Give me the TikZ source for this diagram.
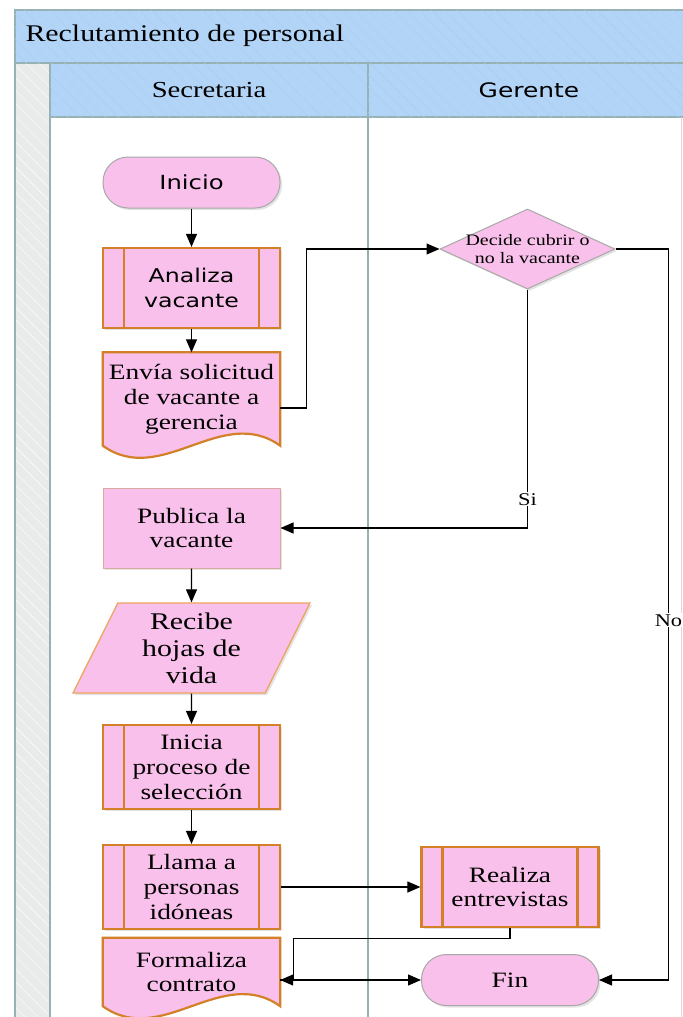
\documentclass[tikz,border=0pt]{standalone}
\usepackage{fontspec}
\setmainfont[FakeStretch=1.25]{Liberation Serif}
\newfontfamily\shapesans[FakeStretch=1.25]{DejaVu Sans}
\usetikzlibrary{shapes.geometric, arrows.meta, calc, patterns.meta, shadows}
\pgfdeclarelayer{lanes}
\pgfdeclarelayer{background}
\pgfsetlayers{lanes,background,main}

\definecolor{headblue}{RGB}{178,212,246}
\definecolor{hatchblue}{RGB}{170,206,243}
\definecolor{laneline}{RGB}{150,178,180}
\definecolor{stripgray}{RGB}{233,234,234}
\definecolor{procpink}{RGB}{248,192,234}
\definecolor{procorange}{RGB}{212,128,40}
\definecolor{termgray}{RGB}{168,168,168}
\definecolor{pubedge}{RGB}{214,172,160}
\definecolor{recedge}{RGB}{236,164,96}

% document shape: straight top and sides, wavy bottom
\newcommand{\docoutline}[1]{%
  \begin{pgfonlayer}{background}
    \filldraw[fill=procpink, draw=procorange, line width=2.2bp]
      (#1.north west) -- (#1.north east) -- (#1.south east)
      .. controls ($(#1.south east)!0.33!(#1.south west)+(0,42bp)$)
      and ($(#1.south east)!0.67!(#1.south west)+(0,-42bp)$) .. (#1.south west) -- cycle;
  \end{pgfonlayer}}

\begin{document}
\begin{tikzpicture}[x=1bp, y=-1bp,
  flow/.style={line width=1.1bp, -{Triangle[length=13bp,width=11bp]}},
  lane/.style={draw=laneline, line width=1.6bp},
  hatched/.style={postaction={pattern={Lines[angle=-45,distance=9bp,line width=0.4bp]}, pattern color=#1}},
  shade/.style={drop shadow={opacity=0.22, shadow xshift=2bp, shadow yshift=-2bp}},
  body/.style={font=\fontsize{22}{25}\selectfont, align=center},
  term/.style={rectangle, rounded corners=25bp, draw=termgray, line width=1bp, fill=procpink,
    minimum width=177bp, minimum height=51bp, shade, font=\shapesans\fontsize{19.5}{22}\selectfont},
  predef/.style={rectangle, draw=procorange, line width=2.2bp, fill=procpink, shade, body,
    minimum width=177bp, minimum height=80bp, inner sep=2bp,
    path picture={\draw[procorange, line width=2.2bp]
      ([xshift=21bp]path picture bounding box.north west) -- ([xshift=21bp]path picture bounding box.south west)
      ([xshift=-21bp]path picture bounding box.north east) -- ([xshift=-21bp]path picture bounding box.south east);}},
  plain/.style={rectangle, draw=pubedge, line width=1bp, fill=procpink, shade, body,
    minimum width=177bp, minimum height=80bp},
  docnode/.style={rectangle, body, minimum width=177bp, minimum height=93bp, inner sep=1bp},
  io/.style={trapezium, trapezium left angle=59, trapezium right angle=121, trapezium stretches body=true,
    draw=recedge, line width=1.3bp, fill=procpink, shade, align=center, inner sep=2bp,
    minimum width=237bp, minimum height=90bp, font=\fontsize{24}{27}\selectfont},
  decision/.style={diamond, draw=termgray, line width=1bp, fill=procpink, shade,
    minimum width=175bp, minimum height=80bp, inner sep=0pt},
  tag/.style={fill=white, inner sep=1bp, font=\fontsize{18}{20}\selectfont}
]
\useasboundingbox (0,0) rectangle (683,1017);
\clip (0,0) rectangle (683,1017);

% pool and lanes
\begin{pgfonlayer}{lanes}
\fill[white] (0,0) rectangle (683,1017);
\fill[stripgray, hatched=white] (15,63) rectangle (50,1030);
\fill[white] (50,117) rectangle (700,1030);
\filldraw[fill=headblue, lane, hatched=hatchblue] (15,10) rectangle (700,63);
\filldraw[fill=headblue, lane, hatched=hatchblue] (50,63) rectangle (368,117);
\filldraw[fill=headblue, lane, hatched=hatchblue] (368,63) rectangle (700,117);
\draw[lane] (15,63) -- (15,1030);
\draw[lane] (50,117) -- (50,1030);
\draw[lane] (368,117) -- (368,1030);
\draw[line width=1bp, black!15] (681,117) -- (681,1030);
\end{pgfonlayer}

\node[anchor=west, font=\fontsize{24}{26}\selectfont] (titulo) at (22,36) {Reclutamiento de personal};
\node[font=\fontsize{23}{25}\selectfont] (secretaria) at (209,90) {Secretaria};
\node[font=\shapesans\fontsize{20}{22}\selectfont] (gerente) at (529,90) {Gerente};

% Secretaria
\node[term] (inicio) at (191.5,182.5) {Inicio};
\node[predef, font=\shapesans\fontsize{19}{25}\selectfont] (analiza) at (191.5,288) {Analiza\\vacante};
\node[docnode] (envia) at (191.5,399) {Envía solicitud\\de vacante a\\gerencia};
\docoutline{envia}
\node[plain] (publica) at (191.5,528) {Publica la\\vacante};
\node[io] (recibe) at (191.5,648) {Recibe\\hojas de\\vida};
\node[predef, minimum height=84bp] (inicia) at (191.5,767) {Inicia\\proceso de\\selección};
\node[predef, minimum height=84bp] (llama) at (191.5,887) {Llama a\\personas\\idóneas};
\node[docnode, minimum height=68bp] (forma) at (191.5,972) {Formaliza\\contrato};
\docoutline{forma}

% Gerente
\node[decision, label={[align=center, font=\fontsize{16}{18}\selectfont]center:Decide cubrir o\\no la vacante}] (decide) at (527.5,249) {};
\node[predef] (realiza) at (510,887) {Realiza\\entrevistas};
\node[term, font=\fontsize{22}{24}\selectfont] (fin) at (510,980) {Fin};

% flow
\draw[flow] (inicio) -- (analiza);
\draw[flow] (analiza) -- (envia);
\draw[flow] ([yshift=-9bp]envia.east) -- ++(26,0) |- (decide.west);
\draw[flow] (decide.south) |- node[tag, pos=0.44] {Si} (publica.east);
\draw[flow] (decide.east) -- ++(53,0) |- node[tag, pos=0.254] {No} (fin.east);
\draw[flow] (publica) -- (recibe);
\draw[flow] (recibe) -- (inicia);
\draw[flow] (inicia) -- (llama);
\draw[flow] (llama) -- (realiza);
\draw[flow] (realiza.south) -- ++(0,10) -| ([xshift=13bp]forma.east |- fin.west) -- (forma.east |- fin.west);
\draw[flow] (forma.east |- fin.west) -- (fin.west);
\end{tikzpicture}
\end{document}
